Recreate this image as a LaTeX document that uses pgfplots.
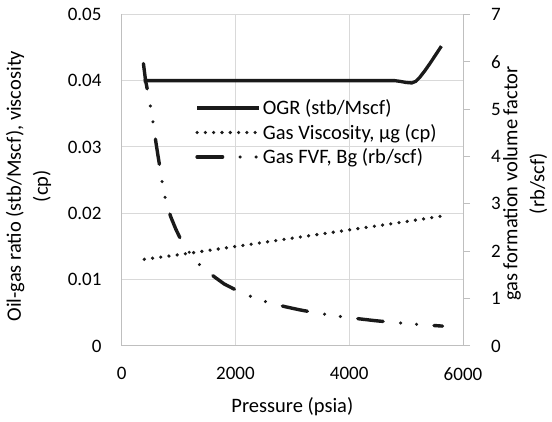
\documentclass[border=0pt]{standalone}
\usepackage{pgfplots}
\pgfplotsset{compat=1.18}
\usepackage{fontspec}
\setmainfont{Carlito}
\definecolor{gridc}{HTML}{D9D9D9}
\definecolor{spinec}{HTML}{BFBFBF}
\definecolor{linec}{HTML}{1A1A1A}
\pgfplotsset{
  common/.style={
    scale only axis, width=341.3pt, height=331.7pt,
    at={(121.7pt,76pt)}, anchor=south west,
    xmin=0, xmax=6000,
    /pgf/number format/assume math mode=true,
    tick label style={font=\fontsize{19}{22}\selectfont, inner sep=0pt},
    label style={font=\fontsize{20.5}{27}\selectfont, align=center},
    scaled ticks=false,
  },
  ogr/.style={linec, line width=3.3pt, line join=round},
  visc/.style={linec, line width=3.6pt, line cap=round, dash pattern=on 0pt off 8.3pt},
  fvf/.style={linec, line width=3.4pt, line cap=round, line join=round, dash pattern=on 25.5pt off 17.5pt on 0pt off 16pt on 0pt off 17.5pt},
}
\begin{document}
\begin{tikzpicture}
\path[use as bounding box] (0,0) rectangle (552pt,422pt);
\begin{axis}[common,
  ymin=0, ymax=0.05,
  axis x line*=bottom, axis y line*=left,
  axis line style={spinec, line width=1pt, -},
  grid=major, grid style={gridc, line width=1pt},
  major tick length=0pt,
  xtick={0,2000,4000,6000}, xticklabels={0,2000,4000,6000},
  ytick={0,0.01,0.02,0.03,0.04,0.05}, yticklabels={0,0.01,0.02,0.03,0.04,0.05},
  xticklabel style={anchor=north, yshift=-21pt},
  yticklabel style={anchor=east, xshift=-20pt},
  xlabel={Pressure (psia)},
  xlabel style={at={(axis description cs:0.5,-0.182)}, anchor=center},
  ylabel={Oil-gas ratio (stb/Mscf), viscosity\\(cp)},
  ylabel style={at={(axis description cs:-0.273,0.482)}, anchor=center},
]
\addplot[ogr] coordinates {(385,0.04)(4800,0.04)(4900,0.03988)(5000,0.03972)(5100,0.03965)(5170,0.0399)(5240,0.0405)(5330,0.0415)(5420,0.0426)(5520,0.0439)(5620,0.0452)};
\addplot[visc] coordinates {(397,0.01307)(1000,0.01375)(2000,0.0150)(3000,0.01625)(4000,0.0175)(5000,0.01875)(5600,0.01955)};
\end{axis}
\begin{axis}[common,
  ymin=0, ymax=7,
  axis y line*=right, axis x line=none,
  axis line style={spinec, line width=1pt, -},
  ytick={0,1,2,3,4,5,6,7}, yticklabels={0,1,2,3,4,5,6,7},
  major tick length=7pt, tick align=outside, tick style={spinec, line width=1pt},
  yticklabel style={anchor=west, xshift=21pt},
  ylabel={gas formation volume factor\\(rb/scf)},
  ylabel style={at={(axis description cs:1.182,0.49)}, anchor=center},
  legend image code/.code={\draw[#1] (0pt,0pt) -- (62pt,0pt);},
  legend cell align=left,
  legend style={at={(axis description cs:0.215,0.749)}, anchor=north west, draw=none, fill=none,
    font=\fontsize{20.5}{24.5}\selectfont, inner sep=0pt, row sep=4pt},
]
\addlegendimage{ogr}
\addlegendentry{OGR (stb/Mscf)}
\addlegendimage{visc}
\addlegendentry{Gas Viscosity, μg (cp)}
\addplot[fvf] coordinates {(382,5.96)(420,5.6)(467,5.31)(515,4.99)(560,4.65)(600,4.31)(640,4.0)(680,3.71)(720,3.39)(779,3.04)(861,2.73)(950,2.47)(1065,2.18)(1230,1.91)(1417,1.65)(1640,1.45)(1800,1.31)(2076,1.14)(2340,1.01)(2600,0.91)(2870,0.83)(3120,0.765)(3366,0.71)(3650,0.655)(3920,0.61)(4200,0.57)(4450,0.535)(4710,0.505)(5000,0.475)(5270,0.45)(5640,0.42)};
\addlegendentry{Gas FVF, Bg (rb/scf)}
\end{axis}
\end{tikzpicture}
\end{document}
